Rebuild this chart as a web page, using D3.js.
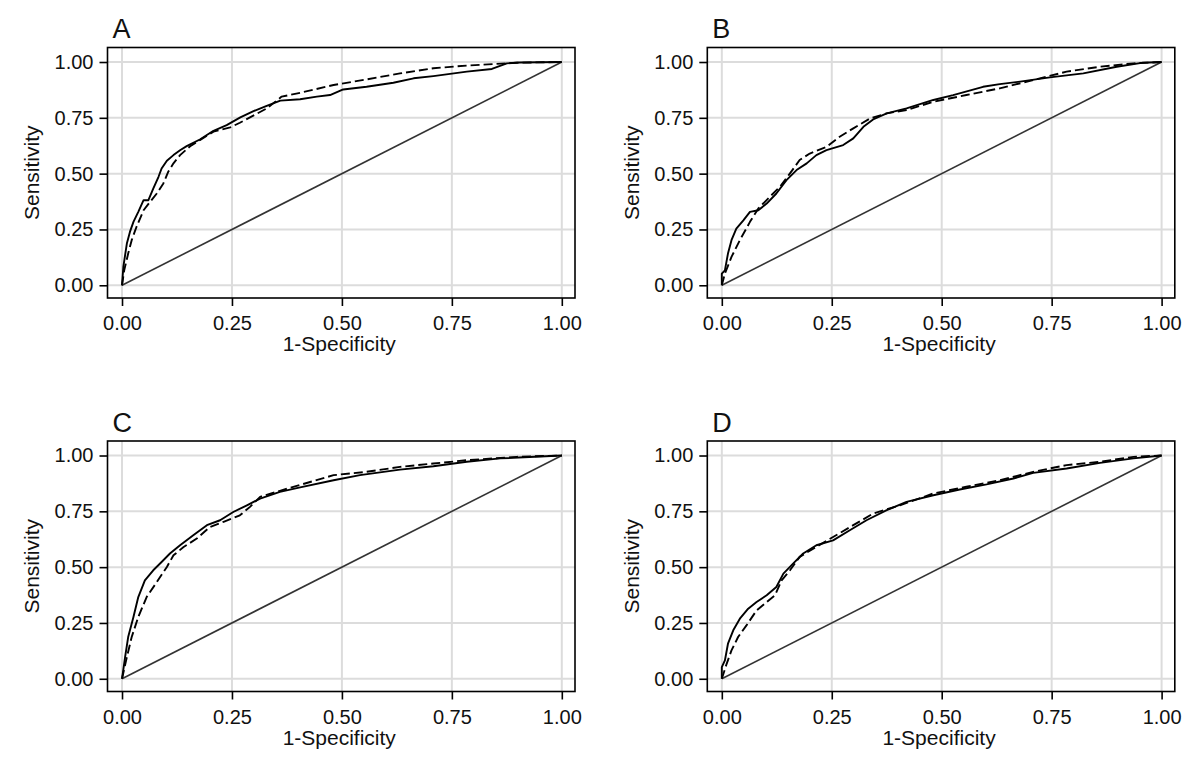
<!DOCTYPE html>
<html>
<head>
<meta charset="utf-8">
<script src="https://cdn.jsdelivr.net/npm/d3@7"></script>
<style>
  html, body { margin: 0; padding: 0; background: #fff; }
  svg { display: block; font-family: "Liberation Sans", Arial, sans-serif; }
</style>
</head>
<body>
<svg id="chart" width="1200" height="764"></svg>
<script>
// ---------- data ----------
const panels = ["A", "B", "C", "D"];
const xTicks = [0, 0.25, 0.5, 0.75, 1];
const yTicks = [0, 0.25, 0.5, 0.75, 1];
const xTickLabels = ["0.00", "0.25", "0.50", "0.75", "1.00"];
const yTickLabels = ["0.00", "0.25", "0.50", "0.75", "1.00"];
const xTitle = "1-Specificity";
const yTitle = "Sensitivity";

// each curve: [1-specificity, sensitivity]
const solidA = [[0,0],[0.003,0.082],[0.011,0.187],[0.018,0.239],[0.026,0.284],[0.037,0.329],[0.049,0.381],[0.060,0.381],[0.071,0.433],[0.083,0.486],[0.090,0.523],[0.102,0.558],[0.117,0.583],[0.132,0.605],[0.147,0.623],[0.177,0.653],[0.208,0.692],[0.238,0.717],[0.269,0.752],[0.299,0.780],[0.329,0.804],[0.360,0.827],[0.405,0.833],[0.443,0.845],[0.473,0.852],[0.503,0.877],[0.556,0.889],[0.617,0.907],[0.663,0.927],[0.708,0.937],[0.784,0.957],[0.841,0.969],[0.875,0.994],[0.905,0.998],[1,1]];
const dashedA = [[0,0],[0.005,0.067],[0.014,0.142],[0.022,0.202],[0.033,0.262],[0.049,0.336],[0.064,0.374],[0.079,0.411],[0.094,0.456],[0.105,0.508],[0.117,0.546],[0.132,0.583],[0.155,0.623],[0.177,0.650],[0.208,0.688],[0.246,0.707],[0.268,0.728],[0.291,0.752],[0.329,0.792],[0.363,0.845],[0.405,0.862],[0.481,0.897],[0.556,0.922],[0.632,0.949],[0.708,0.972],[0.784,0.984],[0.898,0.997],[1,1]];

const solidB = [[0,0],[0,0.052],[0.007,0.067],[0.014,0.142],[0.022,0.202],[0.033,0.254],[0.049,0.291],[0.064,0.329],[0.083,0.336],[0.102,0.366],[0.124,0.411],[0.147,0.471],[0.170,0.516],[0.193,0.546],[0.215,0.583],[0.238,0.605],[0.276,0.628],[0.299,0.658],[0.322,0.710],[0.344,0.743],[0.375,0.770],[0.420,0.792],[0.481,0.830],[0.526,0.852],[0.594,0.889],[0.632,0.901],[0.678,0.912],[0.746,0.931],[0.822,0.949],[0.898,0.979],[0.958,0.997],[1,1]];
const dashedB = [[0,0],[0.007,0.052],[0.022,0.127],[0.041,0.202],[0.064,0.284],[0.083,0.344],[0.109,0.396],[0.132,0.441],[0.155,0.501],[0.177,0.561],[0.200,0.590],[0.238,0.620],[0.268,0.665],[0.299,0.703],[0.337,0.747],[0.375,0.770],[0.420,0.785],[0.481,0.822],[0.556,0.852],[0.632,0.882],[0.708,0.919],[0.784,0.957],[0.860,0.979],[0.936,0.994],[1,1]];

const solidC = [[0,0],[0.007,0.097],[0.014,0.187],[0.026,0.277],[0.037,0.366],[0.052,0.441],[0.071,0.486],[0.090,0.523],[0.109,0.561],[0.132,0.598],[0.162,0.643],[0.193,0.688],[0.223,0.710],[0.253,0.747],[0.284,0.777],[0.314,0.807],[0.359,0.837],[0.405,0.857],[0.481,0.889],[0.541,0.912],[0.632,0.937],[0.708,0.952],[0.784,0.972],[0.860,0.987],[1,1]];
const dashedC = [[0,0],[0.011,0.097],[0.022,0.187],[0.037,0.277],[0.056,0.366],[0.079,0.433],[0.102,0.501],[0.117,0.553],[0.140,0.590],[0.170,0.628],[0.200,0.680],[0.231,0.703],[0.268,0.732],[0.291,0.770],[0.314,0.815],[0.359,0.842],[0.420,0.877],[0.481,0.912],[0.556,0.927],[0.632,0.949],[0.708,0.964],[0.784,0.979],[0.898,0.994],[1,1]];

const solidD = [[0,0],[0,0.052],[0.007,0.082],[0.014,0.157],[0.026,0.217],[0.041,0.269],[0.060,0.314],[0.079,0.344],[0.102,0.374],[0.124,0.411],[0.140,0.471],[0.162,0.516],[0.185,0.561],[0.215,0.598],[0.253,0.620],[0.291,0.665],[0.329,0.710],[0.375,0.755],[0.420,0.792],[0.481,0.822],[0.541,0.848],[0.602,0.871],[0.663,0.897],[0.708,0.922],[0.784,0.942],[0.860,0.967],[0.936,0.987],[1,1]];
const dashedD = [[0,0],[0.011,0.067],[0.022,0.127],[0.037,0.187],[0.056,0.239],[0.079,0.306],[0.102,0.344],[0.121,0.374],[0.136,0.441],[0.155,0.486],[0.177,0.546],[0.208,0.583],[0.253,0.635],[0.299,0.688],[0.344,0.740],[0.405,0.777],[0.481,0.830],[0.556,0.860],[0.632,0.889],[0.708,0.927],[0.784,0.957],[0.860,0.972],[0.936,0.994],[1,1]];

const reference = [[0,0],[1,1]];

const solidCurves = [solidA, solidB, solidC, solidD];
const dashedCurves = [dashedA, dashedB, dashedC, dashedD];

// ---------- layout ----------
const svg = d3.select("#chart");
const frameW = 467.5, frameH = 250.5;
const originX = [107.5, 707.3];
const originY = [47.5, 441.0];
const xDomain = [-0.033, 1.030];
const yDomain = [-0.057, 1.065];
const tickFont = 20;
const titleFont = 21;

panels.forEach((name, i) => {
  const col = i % 2, row = Math.floor(i / 2);
  const g = svg.append("g").attr("transform", `translate(${originX[col]},${originY[row]})`);
  const x = d3.scaleLinear().domain(xDomain).range([0, frameW]);
  const y = d3.scaleLinear().domain(yDomain).range([frameH, 0]);

  // grid
  g.append("g").selectAll("line").data(xTicks).join("line")
    .attr("x1", d => x(d)).attr("x2", d => x(d)).attr("y1", 0).attr("y2", frameH)
    .attr("stroke", "#dcdcdc").attr("stroke-width", 2);
  g.append("g").selectAll("line").data(yTicks).join("line")
    .attr("y1", d => y(d)).attr("y2", d => y(d)).attr("x1", 0).attr("x2", frameW)
    .attr("stroke", "#dcdcdc").attr("stroke-width", 2);

  // reference diagonal
  const line = d3.line().x(d => x(d[0])).y(d => y(d[1]));
  g.append("path").datum(reference).attr("d", line)
    .attr("fill", "none").attr("stroke", "#333").attr("stroke-width", 1.6);

  // curves
  g.append("path").datum(dashedCurves[i]).attr("d", line)
    .attr("fill", "none").attr("stroke", "#000").attr("stroke-width", 1.9)
    .attr("stroke-dasharray", "9,4").attr("stroke-linejoin", "round");
  g.append("path").datum(solidCurves[i]).attr("d", line)
    .attr("fill", "none").attr("stroke", "#000").attr("stroke-width", 1.9)
    .attr("stroke-linejoin", "round");

  // frame
  g.append("rect").attr("x", 0).attr("y", 0).attr("width", frameW).attr("height", frameH)
    .attr("fill", "none").attr("stroke", "#000").attr("stroke-width", 1.6);

  // axes
  const xAxis = d3.axisBottom(x).tickValues(xTicks)
    .tickFormat((d, k) => xTickLabels[k]).tickSize(8).tickPadding(10);
  const gx = g.append("g").attr("transform", `translate(0,${frameH})`).call(xAxis);
  const yAxis = d3.axisLeft(y).tickValues(yTicks)
    .tickFormat((d, k) => yTickLabels[k]).tickSize(8).tickPadding(6);
  const gy = g.append("g").call(yAxis);
  [gx, gy].forEach(a => {
    a.select(".domain").remove();
    a.selectAll(".tick line").attr("stroke", "#000").attr("stroke-width", 1.6);
    a.selectAll(".tick text").attr("fill", "#111")
      .style("font-size", tickFont + "px").style("font-family", "'Liberation Sans', Arial, sans-serif");
  });

  // axis titles
  g.append("text").attr("x", frameW / 2 - 2).attr("y", frameH + 53)
    .attr("text-anchor", "middle").attr("fill", "#111")
    .style("font-size", titleFont + "px").text(xTitle);
  g.append("text")
    .attr("transform", `translate(${-68.5},${frameH / 2}) rotate(-90)`)
    .attr("text-anchor", "middle").attr("fill", "#111")
    .style("font-size", titleFont + "px").text(yTitle);

  // panel label
  g.append("text").attr("x", 5).attr("y", -9.5).attr("fill", "#111")
    .style("font-size", "27px").text(name);
});
</script>
</body>
</html>
